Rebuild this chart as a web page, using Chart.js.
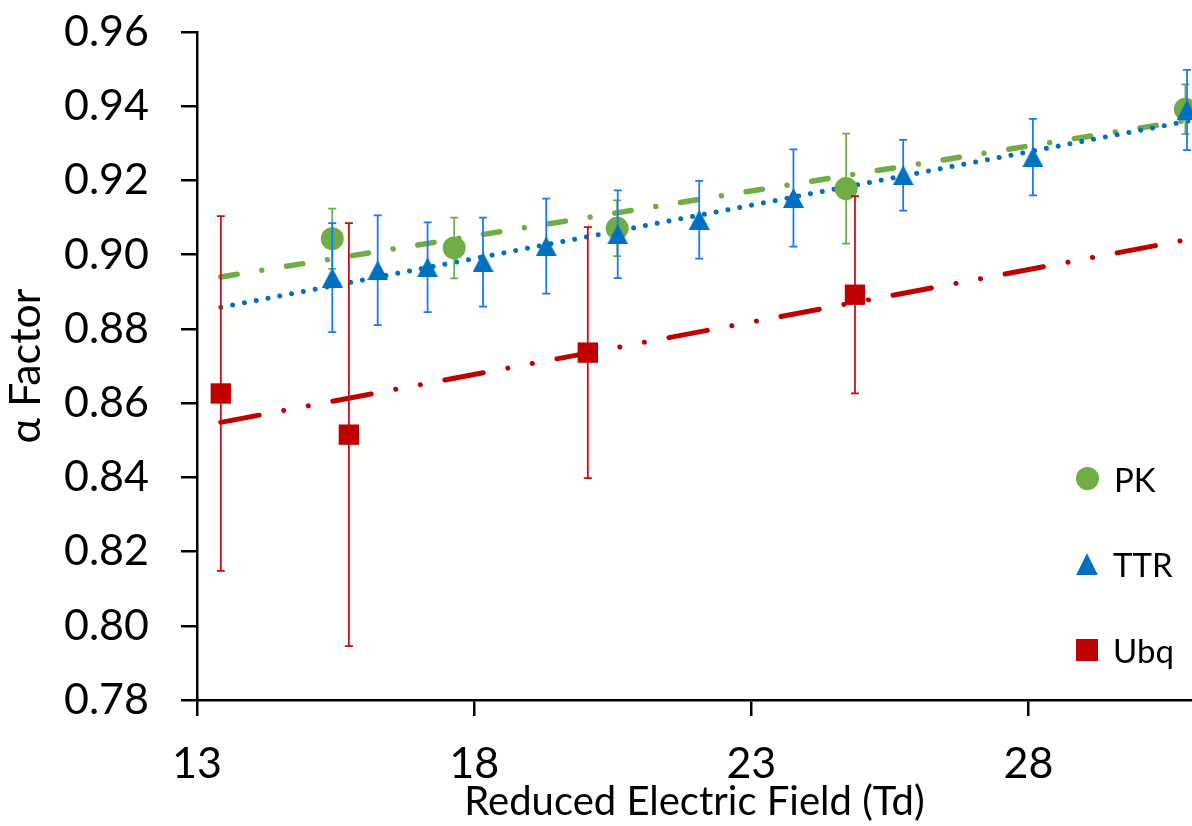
<!DOCTYPE html>
<html lang="en">
<head>
    <meta charset="UTF-8">
    <title>alpha factor vs reduced field</title>
    <script src="https://cdn.jsdelivr.net/npm/chart.js"></script>
    <style>
        body { margin: 0; background: #fff; }
        .chartBox { position: relative; width: 1192px; height: 826px; overflow: hidden; }
        #legend { position: absolute; left: 1076px; top: 436px; font-family: Lato, sans-serif; font-size: 33px; color: #000; }
        #legend .item { height: 85.5px; display: flex; align-items: center; }
        #legend .mark { width: 23px; height: 23px; margin-right: 15px; }
    </style>
</head>
<body>
<div class="chartBox">
    <canvas id="alphaChart" width="1192" height="826"></canvas>
    <div id="legend"></div>
</div>
<script>
    // values
    const xTicks  = [13, 18, 23, 28];

    const pkX     = [15.44, 17.64, 20.58, 24.71, 30.83];
    const pkY     = [0.9043, 0.9018, 0.9071, 0.9178, 0.9392];
    const pkErr   = [0.0081, 0.0082, 0.0075, 0.0148, 0.0067];

    const ttrX    = [15.44, 16.26, 17.16, 18.16, 19.30, 20.59, 22.06, 23.76, 25.74, 28.08, 30.86];
    const ttrY    = [0.8938, 0.8958, 0.8966, 0.8980, 0.9023, 0.9055, 0.9094, 0.9153, 0.9214, 0.9263, 0.9390];
    const ttrErr  = [0.0147, 0.0148, 0.0121, 0.0120, 0.0128, 0.0118, 0.0105, 0.0131, 0.0095, 0.0103, 0.0108];

    const ubqX    = [13.43, 15.74, 20.05, 24.87];
    const ubqY    = [0.8626, 0.8515, 0.8736, 0.8892];
    const ubqErr  = [0.0478, 0.0570, 0.0338, 0.0266];

    // trend line ends (as drawn)
    const trendX   = [13.43, 30.95];
    const pkTrend  = [0.8940, 0.9364];
    const ttrTrend = [0.8858, 0.9362];
    const ubqTrend = [0.8548, 0.9043];

    const green = '#70AD47', blue = '#0070C0', red = '#C00000';

    const pts = (xs, ys) => xs.map((x, i) => ({x: x, y: ys[i]}));

    // excel style triangle, centred on its box
    function triangle(w, h, color) {
        const c = document.createElement('canvas');
        c.width = w; c.height = h;
        const g = c.getContext('2d');
        g.fillStyle = color;
        g.beginPath();
        g.moveTo(w / 2, 0);
        g.lineTo(w, h);
        g.lineTo(0, h);
        g.closePath();
        g.fill();
        return c;
    }

    const errorBars = {
        id: 'errorBars',
        beforeDatasetDraw(chart, args) {
            const ds = chart.data.datasets[args.index];
            if (!ds.errors) return;
            const {ctx, scales: {x, y}} = chart;
            ctx.save();
            ctx.strokeStyle = ds.errorColor;
            ctx.lineWidth = 1.75;
            ds.data.forEach((p, i) => {
                const px = x.getPixelForValue(p.x);
                const top = y.getPixelForValue(p.y + ds.errors[i]);
                const bot = y.getPixelForValue(p.y - ds.errors[i]);
                ctx.beginPath();
                ctx.moveTo(px, top); ctx.lineTo(px, bot);
                ctx.moveTo(px - 4, top); ctx.lineTo(px + 4, top);
                ctx.moveTo(px - 4, bot); ctx.lineTo(px + 4, bot);
                ctx.stroke();
            });
            ctx.restore();
        }
    };

    const ctx = document.getElementById('alphaChart').getContext('2d');
    const alphaChart = new Chart(ctx, {
        type: 'scatter',
        data: {
            datasets: [
                { label: 'PK', data: pts(pkX, pkY), errors: pkErr, errorColor: green,
                  pointStyle: 'circle', pointRadius: 11.5, backgroundColor: green, borderWidth: 0, order: 3 },
                { label: 'TTR', data: pts(ttrX, ttrY), errors: ttrErr, errorColor: '#1478FA',
                  pointStyle: triangle(21, 20, blue), backgroundColor: blue, borderWidth: 0, order: 2 },
                { label: 'Ubq', data: pts(ubqX, ubqY), errors: ubqErr, errorColor: '#CC0A0A',
                  pointStyle: 'rect', pointRadius: 14.4, backgroundColor: red, borderWidth: 0, order: 1 },
                { label: 'PK trend', data: pts(trendX, pkTrend), showLine: true, pointRadius: 0,
                  borderColor: green, borderWidth: 5.5, borderCapStyle: 'round', borderDash: [16.5, 25, 0.01, 25], order: 12 },
                { label: 'TTR trend', data: pts(trendX, ttrTrend), showLine: true, pointRadius: 0,
                  borderColor: blue, borderWidth: 5, borderCapStyle: 'round', borderDash: [0.01, 12], order: 11 },
                { label: 'Ubq trend', data: pts(trendX, ubqTrend), showLine: true, pointRadius: 0,
                  borderColor: red, borderWidth: 5, borderCapStyle: 'round', borderDash: [39, 25, 0.01, 25, 0.01, 25], order: 10 }
            ]
        },
        options: {
            responsive: false,
            animation: false,
            layout: { autoPadding: false, padding: { top: 32, right: 0, left: 0, bottom: 0 } },
            plugins: { legend: { display: false }, tooltip: { enabled: false } },
            scales: {
                x: {
                    type: 'linear', min: 13, max: 30.95,
                    afterBuildTicks: s => { s.ticks = xTicks.map(v => ({value: v})); },
                    afterFit: s => { s.height = 126; s.paddingLeft = 0; s.paddingRight = 0; },
                    border: { display: true, color: '#000', width: 2.5 },
                    grid: { drawOnChartArea: false, drawTicks: true, tickLength: 16, color: '#000', lineWidth: 2.5 },
                    ticks: { color: '#000', padding: 22, maxRotation: 0, font: { family: 'Lato', size: 43 } },
                    title: { display: true, text: 'Reduced Electric Field (Td)', color: '#000',
                             padding: { top: 0, bottom: 0 }, font: { family: 'Lato', size: 40 } }
                },
                y: {
                    min: 0.78, max: 0.96,
                    ticks: { stepSize: 0.02, color: '#000', padding: 32, font: { family: 'Lato', size: 43 },
                             callback: v => v.toFixed(2) },
                    afterFit: s => { s.width = 197; s.paddingTop = 0; s.paddingBottom = 0; },
                    border: { display: true, color: '#000', width: 2.5 },
                    grid: { drawOnChartArea: false, drawTicks: true, tickLength: 16, color: '#000', lineWidth: 2.5 },
                    title: { display: true, text: 'α Factor', color: '#000',
                             padding: { top: 0, bottom: 0 }, font: { family: 'Lato', size: 43 } }
                }
            }
        },
        plugins: [errorBars]
    });

    // legend inside the plot, built from the marker datasets
    const legend = document.getElementById('legend');
    alphaChart.data.datasets.filter(d => d.errors).forEach(d => {
        const item = document.createElement('div');
        item.className = 'item';
        const mark = document.createElement('div');
        mark.className = 'mark';
        mark.style.background = d.backgroundColor;
        if (d.label === 'PK') mark.style.borderRadius = '50%';
        if (d.label === 'TTR') { mark.style.width = '22px'; mark.style.height = '22px';
                                 mark.style.clipPath = 'polygon(50% 0, 100% 100%, 0 100%)'; }
        if (d.label === 'Ubq') { mark.style.width = '22px'; mark.style.height = '22px'; }
        item.appendChild(mark);
        item.appendChild(document.createTextNode(d.label));
        legend.appendChild(item);
    });
</script>
</body>
</html>
